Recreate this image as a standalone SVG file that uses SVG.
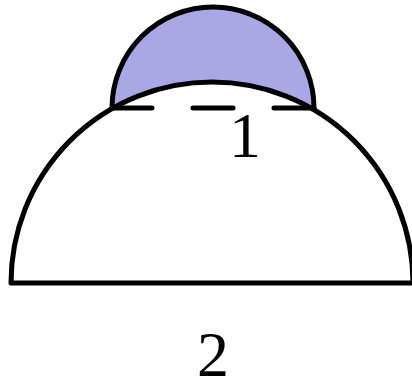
<svg xmlns="http://www.w3.org/2000/svg" width="412" height="383" viewBox="0 0 412 383">
<style>
.line{fill:none;stroke:#000;stroke-width:5;stroke-linejoin:round;stroke-linecap:round}
.lbl{font-family:"Liberation Serif","DejaVu Serif",serif;font-size:64px;fill:#000;text-anchor:middle}
</style>
<rect width="412" height="383" fill="#fff"/>
<g id="cap-fill">
<path d="M112,108 A101,101 0 0 1 314,108 Z" fill="#aaa8e4"/>
</g>
<g id="region2">
<path d="M11,283 A201,201 0 0 1 413,283 Z" fill="#fff" stroke="#000" stroke-width="5" stroke-linejoin="round"/>
</g>
<g id="region1">
<path class="line" d="M112,108 A101,101 0 0 1 314,108"/>
<line class="line" x1="112" y1="108" x2="314" y2="108" stroke-dasharray="40 41"/>
</g>
<g id="labels">
<text class="lbl" x="245" y="157">1</text>
<text class="lbl" x="213" y="376">2</text>
</g>
</svg>
